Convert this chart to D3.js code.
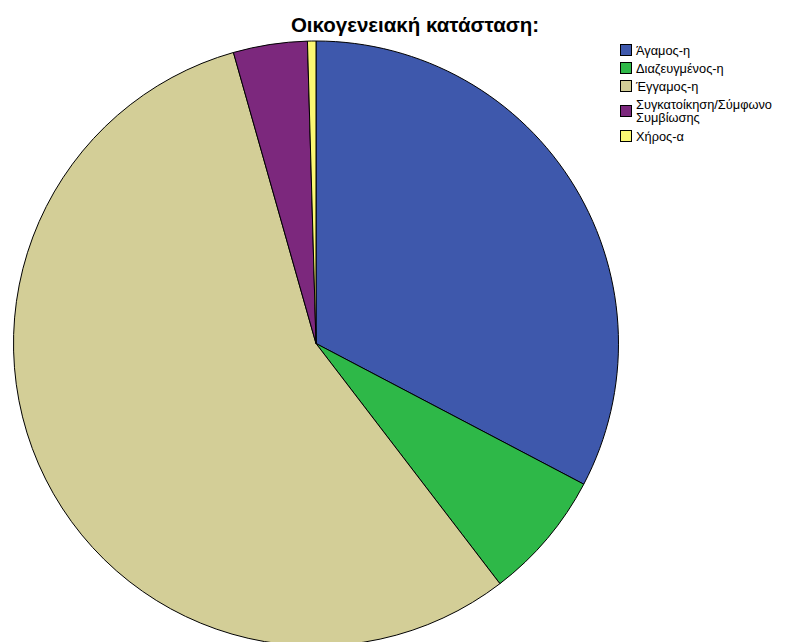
<!DOCTYPE html>
<html><head><meta charset="utf-8">
<script src="https://cdn.jsdelivr.net/npm/d3@7"></script>
<style>body{margin:0;background:#fff}svg{display:block}</style>
</head><body>
<script>
const categories = ["Άγαμος-η","Διαζευγμένος-η","Έγγαμος-η","Συγκατοίκηση/Σύμφωνο Συμβίωσης","Χήρος-α"];
const values = [32.7, 6.9, 56.0, 3.95, 0.45];
const colors = ["#3E58AC","#2EB848","#D3CE97","#7C287D","#FBF873"];
const title = "Οικογενειακή κατάσταση:";

const W = 792, H = 642;
const svg = d3.select("body").append("svg").attr("width", W).attr("height", H);
const cx = 316, cy = 343.5, r = 302.5;

const pie = d3.pie().sort(null).value(d => d);
const arc = d3.arc().innerRadius(0).outerRadius(r);
const color = d3.scaleOrdinal().domain(categories).range(colors);

svg.append("g").attr("transform", `translate(${cx},${cy})`)
  .selectAll("path").data(pie(values)).join("path")
  .attr("d", arc)
  .attr("fill", (d, i) => color(categories[i]))
  .attr("stroke", "#000").attr("stroke-width", 1).attr("stroke-linejoin", "round");

svg.append("text").attr("x", 415).attr("y", 32).attr("text-anchor", "middle")
  .attr("font-family", "Liberation Sans, Arial, sans-serif").attr("font-weight", "bold")
  .attr("font-size", 20.5).attr("fill", "#000").text(title);

const lg = svg.append("g").attr("font-family", "Liberation Sans, Arial, sans-serif").attr("font-size", 12.8);
let y = 44;
categories.forEach((c, i) => {
  const lines = c === "Συγκατοίκηση/Σύμφωνο Συμβίωσης" ? ["Συγκατοίκηση/Σύμφωνο", "Συμβίωσης"] : [c];
  const multi = lines.length > 1;
  if (multi) y += 7;
  lg.append("rect").attr("x", 620.5).attr("y", y + 0.5).attr("width", 11).attr("height", 11)
    .attr("fill", colors[i]).attr("stroke", "#000").attr("stroke-width", 1);
  lines.forEach((t, k) => {
    lg.append("text").attr("x", 636).attr("y", y + 10.5 + k * 13.5 - (multi ? 7 : 0)).attr("fill", "#000").text(t);
  });
  y += multi ? 25 : 18;
});
</script>
</body></html>
